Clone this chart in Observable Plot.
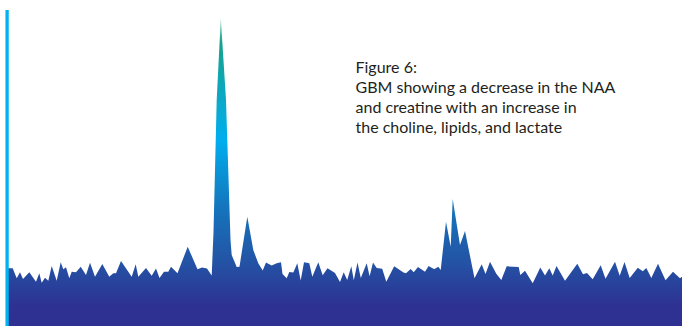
<!DOCTYPE html>
<html>
<head>
<meta charset="utf-8">
<script src="https://cdn.jsdelivr.net/npm/d3@7"></script>
<script src="https://cdn.jsdelivr.net/npm/@observablehq/plot@0.6"></script>
<style>
  html, body { margin: 0; padding: 0; background: #ffffff; }
  #chart { width: 682px; height: 326px; overflow: hidden; }
</style>
</head>
<body>
<div id="chart"></div>
<script>
// Spectrum trace: position along the spectrum and signal intensity at each sample
const shift = [
  7, 12.7, 16.7, 20, 23, 29.3, 36, 39.3, 41.7, 45, 48.3, 51.7, 56.7, 60.7, 63.3, 66,
  69.3, 71.7, 76, 80.7, 86, 90, 95, 102.3, 109.3, 113.3, 116, 121, 131.7, 135.7, 138.3,
  146, 151.7, 156, 159.5, 164, 168.3, 171, 177.5, 187.7, 197.5, 202, 207, 211.7,
  213.5, 216.7, 220.8, 226, 230.5, 231.7, 236.7, 239.5, 247.3, 253.3, 258.3, 262.7,
  266, 271.7, 276.7, 281, 282.5, 286.7, 289.3, 293.3, 297.3, 300.7, 304, 309.3, 312.3,
  318.3, 322.7, 327.5, 335, 340, 343.7, 347.2, 351.3, 353.8, 357.5, 360.8, 366.7,
  369.6, 373, 376.7, 382.2, 386.3, 394.2, 403.5, 406, 410.7, 413.7, 418, 425, 428.6,
  432.9, 434.5, 438.3, 440.7, 446, 450.7, 452.7, 460, 465, 474.5, 481.7, 485.5, 490,
  496.3, 501.3, 506.7, 518.7, 520.3, 525, 532.7, 540.3, 545, 549.3, 552.7, 556.5, 565,
  577.3, 583, 587, 592.7, 600.7, 605.5, 615, 619.7, 624.5, 629.7, 637.8, 642.8, 646.3,
  651.3, 658, 665.5, 673, 680, 682
];
const signal = [
  57.7, 57.7, 47.7, 53.7, 47, 53.7, 44.3, 52.7, 43.3, 48.3, 45.3, 60, 45.3, 63.7, 56.7, 58.7,
  47.7, 54.3, 53.7, 59.3, 51, 63.3, 49.3, 62, 49.3, 52.7, 52.7, 65, 49.3, 61.7, 49.3,
  58, 50.3, 57.5, 48, 54.3, 54.3, 59.3, 52.7, 79.3, 56.7, 58.5, 57.5, 50.5,
  94, 226, 308, 226, 86, 71, 59, 59.3, 109.3, 76, 62.7, 55.5,
  63.5, 60.5, 62.7, 63.7, 52, 47.7, 54, 53.5, 62.7, 45.5, 63.7, 62.7, 49.3,
  63.7, 50.7, 57.7, 53, 44, 53.8, 46, 59.7, 45.7, 63.5, 48, 62.7,
  49.7, 63.5, 58, 57.2, 44.3, 59.8, 53.5, 52.7, 57, 53.8, 59, 54.3, 60,
  57.5, 57, 59.3, 56, 104.3, 79.3, 127, 81, 95, 47.7, 61.7, 52, 64.3,
  52.3, 46, 59.7, 59, 51, 55.2, 42.7, 58.5, 50.5, 57.7, 50.5, 60, 45.3,
  62.3, 51.7, 53, 46.7, 60.7, 47.2, 64.3, 50.3, 64, 48, 58.3, 54.7, 58,
  48, 62.3, 45.7, 54.3, 47.7, 49.3
];

// Extent of the spectrum axis and signal scale
const shiftDomain = [0, 682];
const signalDomain = [0, 326];

// Left axis line
const axisShift = [6.6];
const axisTop = 316;

// Caption text
const caption = [
  "Figure 6:",
  "GBM showing a decrease in the NAA",
  "and creatine with an increase in",
  "the choline, lipids, and lactate"
];

// Fill colours, top of the spectrum to the baseline
const gradientStops = [
  {offset: 0.05, color: "#9ad6c9"},
  {offset: 0.13, color: "#17a28f"},
  {offset: 0.43, color: "#00aeef"},
  {offset: 0.63, color: "#1476bd"},
  {offset: 0.80, color: "#2354a5"},
  {offset: 0.94, color: "#2e3192"}
];

const W = 682, H = 326;
const trace = shift.map((s, i) => ({shift: s, signal: signal[i]}));

const plot = Plot.plot({
  width: W,
  height: H,
  margin: 0,
  x: {domain: shiftDomain, axis: null},
  y: {domain: signalDomain, axis: null},
  style: {background: "#ffffff", overflow: "hidden"},
  marks: [
    () => {
      const defs = d3.create("svg:defs");
      const g = defs.append("linearGradient")
        .attr("id", "spectrumFill")
        .attr("gradientUnits", "userSpaceOnUse")
        .attr("x1", 0).attr("y1", 0)
        .attr("x2", 0).attr("y2", H);
      for (const s of gradientStops) {
        g.append("stop").attr("offset", s.offset).attr("stop-color", s.color);
      }
      return defs.node();
    },
    Plot.areaY(trace, {x: "shift", y1: 0, y2: "signal", fill: "url(#spectrumFill)", curve: "linear"}),
    Plot.ruleX(axisShift, {y1: 0, y2: axisTop, stroke: "#00b2ef", strokeWidth: 3.3}),
    Plot.text([caption.join("\n")], {
      frameAnchor: "top-left",
      dx: 355,
      dy: 58,
      textAnchor: "start",
      lineAnchor: "top",
      lineHeight: 1.25,
      fontSize: 16,
      fontFamily: "Lato, 'Open Sans', sans-serif",
      fill: "#231f20"
    })
  ]
});

document.getElementById("chart").appendChild(plot);
</script>
</body>
</html>
